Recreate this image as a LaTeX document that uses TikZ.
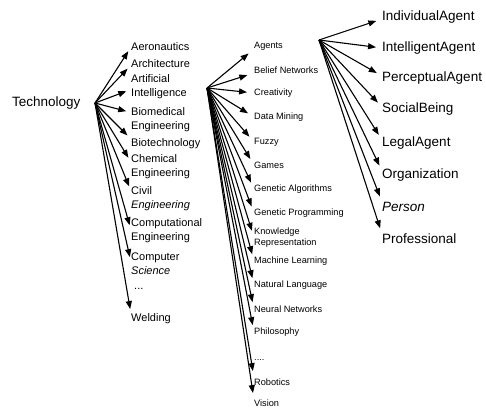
\documentclass[tikz,border=0pt]{standalone}
\usepackage{fontspec}
\setmainfont{Liberation Sans}
\usetikzlibrary{arrows.meta}
\begin{document}
\begin{tikzpicture}[x=1pt,y=-1pt,
  arr/.style={-{Triangle[length=8pt,width=6pt]}, line width=1.1pt},
  arrA/.style={arr, shorten >=5pt},
  arrB/.style={arr, shorten >=7pt},
  arrC/.style={arr, shorten >=6pt},
  lab/.style={anchor=west, inner sep=0pt, align=left},
  root/.style={lab, font=\fontsize{13.5}{16}\selectfont},
  c1/.style={lab, font=\fontsize{11}{14}\selectfont},
  c2/.style={lab, font=\fontsize{9.2}{11}\selectfont},
  c3/.style={lab, font=\fontsize{13.5}{16}\selectfont}]
\useasboundingbox (0,0) rectangle (486,409);
% origins
\coordinate (o1) at (95,103);
\coordinate (o2) at (207,88);
\coordinate (o3) at (319,40);
% root
\node[root] (tech) at (12,103) {Technology};
% column 1
\node[c1] (aero) at (131,47) {Aeronautics};
\node[c1] (arch) at (131,64) {Architecture};
\node[c1] (ai) at (131,86.5) {Artificial\\Intelligence};
\node[c1] (biomed) at (131,119.5) {Biomedical\\Engineering};
\node[c1] (biotech) at (131,144) {Biotechnology};
\node[c1] (chem) at (131,167) {Chemical\\Engineering};
\node[c1] (civil) at (131,199) {Civil\\\textit{Engineering}};
\node[c1] (comp) at (131,231) {Computational\\Engineering};
\node[c1] (cs) at (131,264) {Computer\\\textit{Science}};
\node[c1] (dotsA) at (134,289) {...};
\node[c1] (weld) at (131,319) {Welding};
% column 2
\node[c2] (agents) at (254,46) {Agents};
\node[c2] (belief) at (254,70) {Belief Networks};
\node[c2] (creat) at (254,93) {Creativity};
\node[c2] (dm) at (254,117) {Data Mining};
\node[c2] (fuzzy) at (254,142) {Fuzzy};
\node[c2] (games) at (254,165) {Games};
\node[c2] (ga) at (254,189) {Genetic Algorithms};
\node[c2] (gp) at (254,213) {Genetic Programming};
\node[c2] (kr) at (254,237.5) {Knowledge\\Representation};
\node[c2] (ml) at (254,261) {Machine Learning};
\node[c2] (nl) at (254,285) {Natural Language};
\node[c2] (nn) at (254,309) {Neural Networks};
\node[c2] (phil) at (254,332) {Philosophy};
\node[c2] (dotsB) at (254,360) {....};
\node[c2] (rob) at (254,382) {Robotics};
\node[c2] (vis) at (254,403) {Vision};
% column 3
\node[c3] (ia) at (382,17) {IndividualAgent};
\node[c3] (inta) at (382,48) {IntelligentAgent};
\node[c3] (pa) at (382,78) {PerceptualAgent};
\node[c3] (sb) at (382,109) {SocialBeing};
\node[c3] (la) at (382,143) {LegalAgent};
\node[c3] (org) at (382,175) {Organization};
\node[c3] (pers) at (382,207) {\textit{Person}};
\node[c3] (prof) at (382,239) {Professional};
% arrows column 1
\draw[arrA] (o1) -- (aero.west);
\draw[arrA] (o1) -- ([yshift=-1pt]arch.west);
\draw[arrA] (o1) -- ([yshift=-3pt]ai.west);
\draw[arrA] (o1) -- ([yshift=7pt]biomed.west);
\draw[arrA] (o1) -- ([yshift=5pt]biotech.west);
\draw[arrA] (o1) -- ([yshift=5pt]chem.west);
\draw[arrA] (o1) -- ([yshift=8pt]civil.west);
\draw[arrA] (o1) -- ([yshift=1pt]comp.west);
\draw[arrA] (o1) -- ([yshift=2pt]cs.west);
\draw[arrA] (o1) -- ([yshift=5pt]weld.west);
% arrows column 2
\draw[arrB] (o2) -- ([yshift=-3pt]agents.west);
\draw[arrB] (o2) -- ([yshift=-3pt]belief.west);
\draw[arrB] (o2) -- (creat.west);
\draw[arrB] (o2) -- (dm.west);
\draw[arrB] (o2) -- (fuzzy.west);
\draw[arrB] (o2) -- (games.west);
\draw[arrB] (o2) -- (ga.west);
\draw[arrB] (o2) -- (gp.west);
\draw[arrB] (o2) -- (kr.west);
\draw[arrB] (o2) -- (ml.west);
\draw[arrB] (o2) -- (nl.west);
\draw[arrB] (o2) -- (nn.west);
\draw[arrB] (o2) -- (phil.west);
\draw[arrB] (o2) -- ([yshift=4pt]rob.west);
\draw[arrB] (o2) -- ([yshift=3pt]vis.west);
% arrows column 3
\draw[arrC] (o3) -- ([yshift=-2pt]ia.west);
\draw[arrC] (o3) -- (inta.west);
\draw[arrC] (o3) -- ([yshift=2pt]pa.west);
\draw[arrC] (o3) -- ([yshift=2pt]sb.west);
\draw[arrC] (o3) -- ([yshift=3pt]la.west);
\draw[arrC] (o3) -- ([yshift=4pt]org.west);
\draw[arrC] (o3) -- ([yshift=5pt]pers.west);
\draw[arrC] (o3) -- ([yshift=5pt]prof.west);
\end{tikzpicture}
\end{document}
